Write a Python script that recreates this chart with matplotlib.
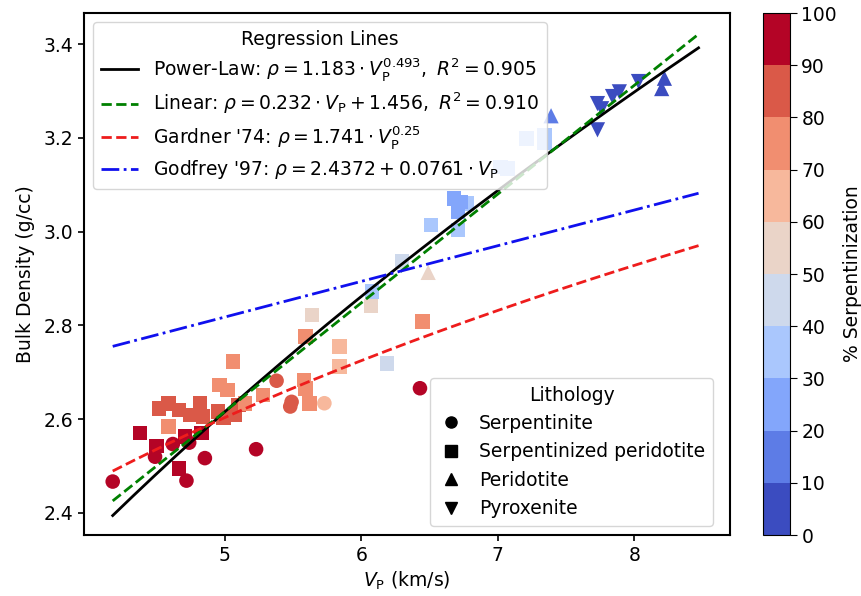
import numpy as np
import matplotlib
matplotlib.use('Agg')
import matplotlib.pyplot as plt
from matplotlib.colors import BoundaryNorm
from matplotlib.lines import Line2D

plt.rcParams['font.family'] = 'DejaVu Sans'
plt.rcParams['mathtext.fontset'] = 'dejavusans'
FS = 13.5

# Serpentinite (circles): Vp, density, % serpentinization
serp_vp = [4.18, 4.49, 4.62, 4.72, 4.74, 4.855, 5.23, 6.43, 5.38, 5.48, 5.49, 5.73]
serp_rho = [2.467, 2.520, 2.547, 2.469, 2.550, 2.517, 2.536, 2.666, 2.682, 2.627, 2.637, 2.634]
serp_pct = [95, 95, 95, 95, 95, 95, 95, 95, 85, 85, 85, 65]

# Serpentinized peridotite (squares)
sp_vp = [4.38, 4.50, 4.665, 4.71, 4.83,
         4.52, 4.59, 4.665, 4.75, 4.82, 4.84, 4.95, 4.99, 5.07, 5.10,
         4.59, 5.06, 4.96, 5.02, 5.15, 5.28, 5.58, 5.59, 5.62, 5.59, 6.45,
         5.84, 5.84, 5.64, 6.07, 6.19, 6.30,
         6.08, 6.51, 6.71, 6.77, 7.02, 7.07, 7.21, 7.34, 7.34,
         6.68, 6.73, 6.71]
sp_rho = [2.571, 2.543, 2.495, 2.563, 2.571,
          2.623, 2.634, 2.620, 2.609, 2.634, 2.606, 2.616, 2.603, 2.609, 2.630,
          2.584, 2.723, 2.673, 2.662, 2.634, 2.652, 2.684, 2.666, 2.634, 2.776, 2.808,
          2.755, 2.712, 2.822, 2.841, 2.719, 2.936,
          2.872, 3.014, 3.003, 3.060, 3.138, 3.135, 3.198, 3.206, 3.189,
          3.071, 3.063, 3.042]
sp_pct = [95, 95, 95, 95, 95,
          85, 85, 85, 85, 85, 85, 85, 85, 85, 85,
          75, 75, 75, 75, 75, 75, 75, 75, 75, 75, 75,
          65, 65, 55, 55, 45, 45,
          35, 35, 35, 35, 35, 35, 35, 35, 35,
          25, 25, 25]

# Peridotite (up triangles)
per_vp = [6.49, 7.39, 8.22, 8.20]
per_rho = [2.913, 3.247, 3.327, 3.305]
per_pct = [55, 15, 5, 5]

# Pyroxenite (down triangles)
pyr_vp = [7.73, 7.76, 7.73, 7.84, 7.89, 8.03]
pyr_rho = [3.273, 3.262, 3.217, 3.288, 3.298, 3.320]
pyr_pct = [5, 5, 5, 5, 5, 5]

vp_fit = np.linspace(4.18, 8.47, 200)

cmap = plt.get_cmap('coolwarm', 10)
norm = BoundaryNorm(np.arange(0, 101, 10), cmap.N)

fig = plt.figure(figsize=(8.61, 5.96), dpi=100)
ax = fig.add_axes([0.0976, 0.1023, 0.7502, 0.8758])
cax = fig.add_axes([0.886, 0.1023, 0.031, 0.8758])

groups = [(serp_vp, serp_rho, serp_pct, 'o', 110),
          (sp_vp, sp_rho, sp_pct, 's', 110),
          (per_vp, per_rho, per_pct, '^', 120),
          (pyr_vp, pyr_rho, pyr_pct, 'v', 120)]
for vp, rho, pct, mk, s in groups:
    ax.scatter(vp, rho, c=pct, cmap=cmap, norm=norm, marker=mk, s=s,
               edgecolors='none', zorder=2)

l1, = ax.plot(vp_fit, 1.183 * vp_fit ** 0.493, color='black', lw=2, zorder=3)
l2, = ax.plot(vp_fit, 0.232 * vp_fit + 1.456, color='green', ls='--', lw=2, zorder=3)
l3, = ax.plot(vp_fit, 1.741 * vp_fit ** 0.25, color='#ee1c1c', ls='--', lw=2, zorder=3)
l4, = ax.plot(vp_fit, 2.4372 + 0.0761 * vp_fit, color='#1010ee', ls='-.', lw=2, zorder=3)

leg1 = ax.legend([l1, l2, l3, l4],
                 [r'Power-Law: $\rho = 1.183 \cdot V_{\mathrm{P}}^{0.493},\ R^2 = 0.905$',
                  r'Linear: $\rho = 0.232 \cdot V_{\mathrm{P}} + 1.456,\ R^2 = 0.910$',
                  r"Gardner '74: $\rho = 1.741 \cdot V_{\mathrm{P}}^{0.25}$",
                  r"Godfrey '97: $\rho = 2.4372 + 0.0761 \cdot V_{\mathrm{P}}$"],
                 title='Regression Lines', loc='upper left', fontsize=FS,
                 title_fontsize=FS, labelspacing=0.4)
ax.add_artist(leg1)

handles = [Line2D([], [], color='black', marker=m, ls='none', markersize=8)
           for m in ['o', 's', '^', 'v']]
ax.legend(handles, ['Serpentinite', 'Serpentinized peridotite', 'Peridotite', 'Pyroxenite'],
          title='Lithology', loc='lower right', bbox_to_anchor=(0.988, 0.0),
          fontsize=FS, title_fontsize=FS, handlelength=1.4)

ax.set_xlim(3.97, 8.70)
ax.set_ylim(2.353, 3.466)
ax.set_xticks([5, 6, 7, 8])
ax.set_yticks([2.4, 2.6, 2.8, 3.0, 3.2, 3.4])
ax.tick_params(labelsize=FS, length=4.5, width=1.2)
for sp in ax.spines.values():
    sp.set_linewidth(1.5)
ax.set_xlabel(r'$V_{\mathrm{P}}$ (km/s)', fontsize=FS, labelpad=3)
ax.set_ylabel('Bulk Density (g/cc)', fontsize=FS, labelpad=6)

cb = fig.colorbar(plt.cm.ScalarMappable(norm=norm, cmap=cmap), cax=cax)
cb.set_ticks(np.arange(0, 101, 10))
cb.ax.tick_params(labelsize=FS, length=5)
cb.set_label('% Serpentinization', fontsize=FS)

fig.savefig('out.png', dpi=100)
